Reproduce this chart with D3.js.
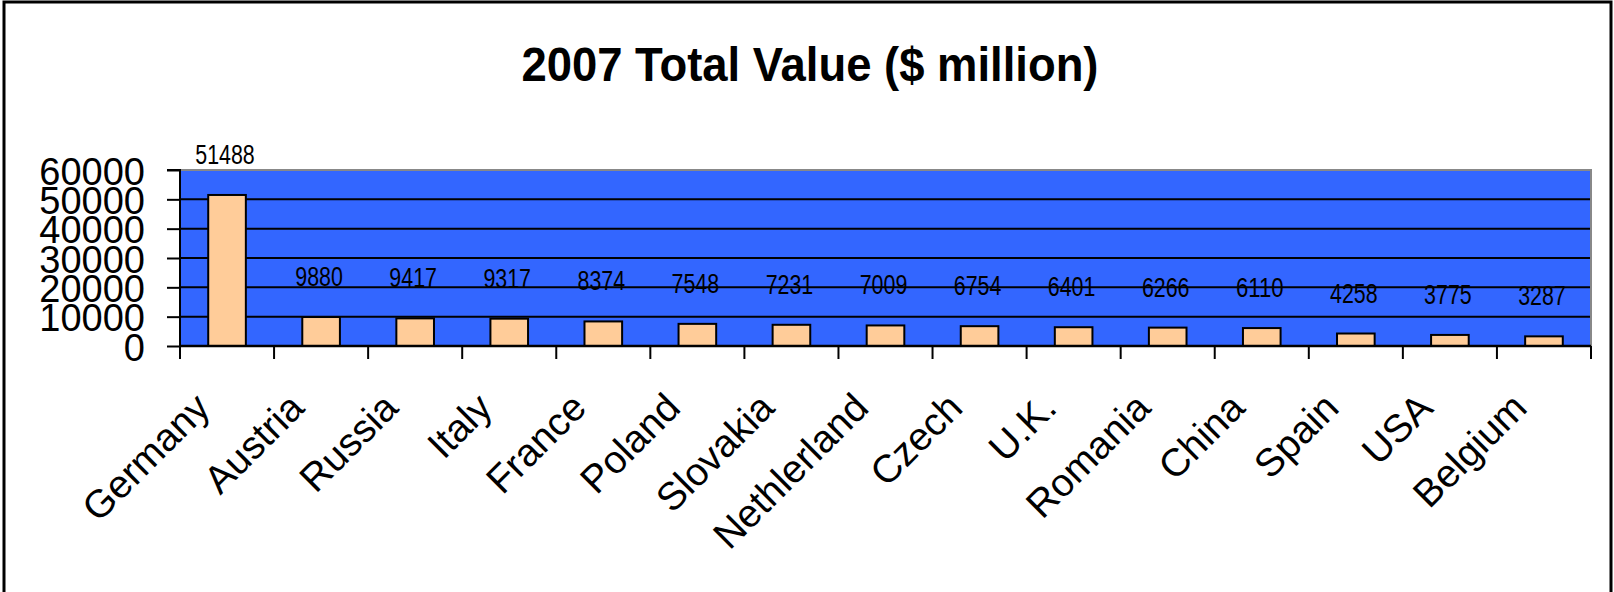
<!DOCTYPE html>
<html>
<head>
<meta charset="utf-8">
<script src="https://cdn.jsdelivr.net/npm/d3@7"></script>
<style>
    body { margin: 0; background: #fff; }
    text { font-family: "Liberation Sans", Arial, sans-serif; fill: #000; }
</style>
</head>
<body>
<div id="chart"></div>
<script>
// chart data
const countries = ["Germany", "Austria", "Russia", "Italy", "France", "Poland", "Slovakia",
    "Nethlerland", "Czech", "U.K.", "Romania", "China", "Spain", "USA", "Belgium"];
const values = [51488, 9880, 9417, 9317, 8374, 7548, 7231, 7009, 6754, 6401, 6266, 6110, 4258, 3775, 3287];
const yTicks = [0, 10000, 20000, 30000, 40000, 50000, 60000];
const chartTitle = "2007 Total Value ($ million)";

const W = 1614, H = 592;
let margin = { top: 170, right: 23, bottom: 246, left: 180 };
let width = W - margin.left - margin.right;
let height = H - margin.top - margin.bottom;

let svg = d3.select("#chart").append("svg")
    .attr("width", W)
    .attr("height", H);

// outer frame (no bottom edge visible)
svg.append("path")
    .attr("d", `M4,${H} L4,2 L1611,2 L1611,${H}`)
    .attr("fill", "none")
    .attr("stroke", "#000")
    .attr("stroke-width", 3);

// title
svg.append("text")
    .attr("x", 810)
    .attr("y", 81)
    .attr("text-anchor", "middle")
    .attr("font-size", 48)
    .attr("font-weight", "bold")
    .attr("textLength", 577)
    .attr("lengthAdjust", "spacingAndGlyphs")
    .text(chartTitle);

let g = svg.append("g")
    .attr("transform", "translate(" + margin.left + "," + margin.top + ")");

// scales
let x = d3.scaleBand()
    .domain(countries)
    .range([0, width])
    .paddingInner(0.6)
    .paddingOuter(0.3);

let y = d3.scaleLinear()
    .domain([0, 60000])
    .range([height, 0]);

// plot area
g.append("rect")
    .attr("width", width)
    .attr("height", height)
    .attr("fill", "#3366FF");

// gridlines
g.selectAll(".grid")
    .data(yTicks.filter(d => d > 0 && d < 60000))
    .enter().append("line")
    .attr("class", "grid")
    .attr("x1", 0).attr("x2", width)
    .attr("y1", d => y(d)).attr("y2", d => y(d))
    .attr("stroke", "#000")
    .attr("stroke-width", 2);

// gray top and right edge of plot
g.append("path")
    .attr("d", `M0,${y(60000)} L${width},${y(60000)} L${width},${height}`)
    .attr("fill", "none")
    .attr("stroke", "#888")
    .attr("stroke-width", 2);

// bars
g.selectAll(".bar")
    .data(values)
    .enter().append("rect")
    .attr("class", "bar")
    .attr("x", (d, i) => x(countries[i]))
    .attr("y", d => y(d))
    .attr("width", x.bandwidth())
    .attr("height", d => height - y(d))
    .attr("fill", "#FFCC99")
    .attr("stroke", "#000")
    .attr("stroke-width", 2);

// value labels
g.selectAll(".val")
    .data(values)
    .enter().append("text")
    .attr("class", "val")
    .attr("x", (d, i) => x(countries[i]) + x.bandwidth() / 2 - 2)
    .attr("y", d => y(d) - 31)
    .attr("text-anchor", "middle")
    .attr("font-size", 27)
    .attr("textLength", d => String(d).length * 11.9)
    .attr("lengthAdjust", "spacingAndGlyphs")
    .text(d => d);

// y axis
let yAxis = d3.axisLeft(y)
    .tickValues(yTicks)
    .tickSize(13)
    .tickPadding(22)
    .tickFormat(d => d);

let yG = g.append("g").attr("class", "y-axis").call(yAxis);
yG.select(".domain").attr("stroke", "#000").attr("stroke-width", 2).attr("d", `M-13,0H0V${height}`);
yG.selectAll(".tick line").attr("stroke", "#000").attr("stroke-width", 2);
yG.selectAll(".tick text")
    .attr("font-size", 38)
    .attr("font-family", "'Liberation Sans', Arial, sans-serif")
    .attr("dy", "0.37em");

// x axis: boundary ticks
let xG = g.append("g")
    .attr("class", "x-axis")
    .attr("transform", "translate(0," + height + ")");

xG.append("line")
    .attr("x1", 0).attr("x2", width)
    .attr("stroke", "#000")
    .attr("stroke-width", 2.5);

xG.selectAll(".xtick")
    .data(d3.range(countries.length + 1))
    .enter().append("line")
    .attr("class", "xtick")
    .attr("x1", i => i * x.step()).attr("x2", i => i * x.step())
    .attr("y1", 0).attr("y2", 13)
    .attr("stroke", "#000")
    .attr("stroke-width", 2);

// category labels
let xAxis = d3.axisBottom(x).tickSize(0).tickPadding(0);
let xl = g.append("g")
    .attr("transform", "translate(0," + height + ")")
    .call(xAxis);
xl.select(".domain").remove();
xl.selectAll(".tick text")
    .attr("font-size", 39)
    .attr("font-family", "'Liberation Sans', Arial, sans-serif")
    .attr("text-anchor", "end")
    .attr("dy", 0)
    .attr("y", 0)
    .attr("transform", "translate(-15,64) rotate(-45)");
</script>
</body>
</html>
